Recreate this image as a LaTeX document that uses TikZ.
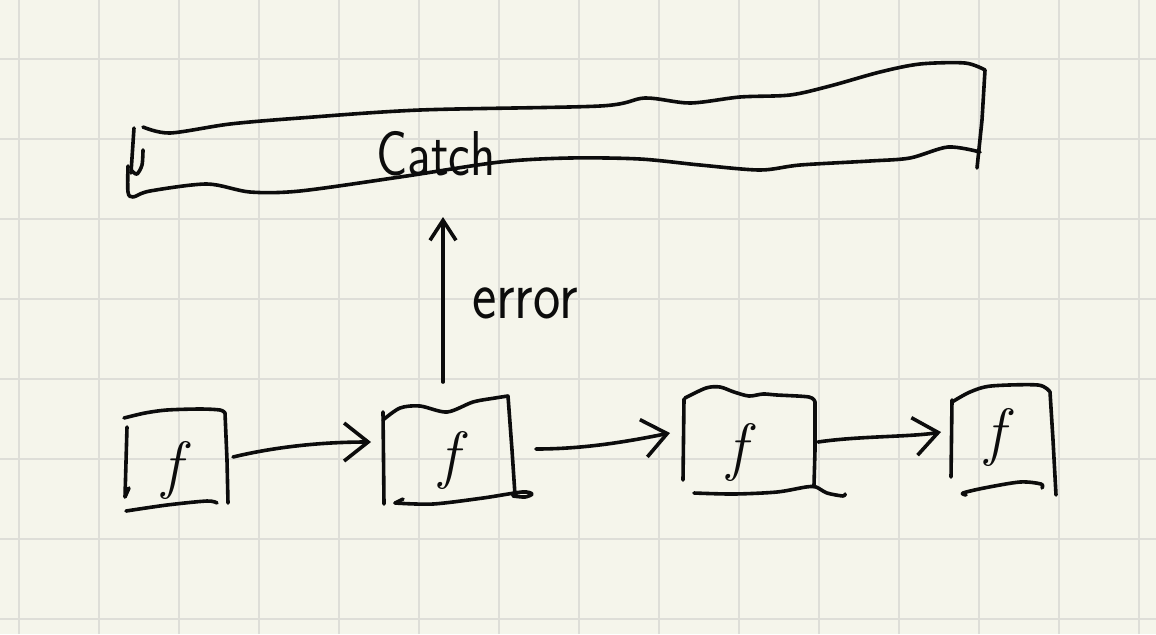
\documentclass[tikz,border=0pt]{standalone}
\usepackage{graphicx}
\usetikzlibrary{arrows.meta,calc}
\definecolor{paper}{RGB}{245,245,235}
\definecolor{gridc}{RGB}{222,222,216}
\definecolor{ink}{RGB}{12,12,12}
\begin{document}
\begin{tikzpicture}[x=0.5pt,y=-0.5pt,
  pen/.style={draw=ink,line width=1.8pt,line cap=round,line join=round},
  barb/.style={-{Straight Barb[length=12pt,width=19pt]}},
  smallbarb/.style={-{Straight Barb[length=10pt,width=13pt]}},
  area/.style={inner sep=0pt,outer sep=0pt},
  ftext/.style={font=\fontsize{32}{36}\selectfont\itshape,inner sep=0pt,text=ink},
  hand/.style={font=\fontsize{#1}{#1}\selectfont\sffamily,inner sep=0pt,text=ink},
  gridline/.style={draw=gridc,line width=1pt}]
\useasboundingbox (0,0) rectangle (1156,634);
\fill[paper] (0,0) rectangle (1156,634);
\foreach \x in {19,99,...,1139} \draw[gridline] (\x,0) -- (\x,634);
\foreach \y in {59,139,...,619} \draw[gridline] (0,\y) -- (1156,\y);

% areas of the sketched boxes
\node[area,minimum width=427.5pt,minimum height=67pt] (catchbox) at (557.5,130) {};
\node[area,minimum width=51.5pt,minimum height=48pt] (b1) at (176.5,457) {};
\node[area,minimum width=66pt,minimum height=53.5pt] (b2) at (449,450.5) {};
\node[area,minimum width=65.5pt,minimum height=53pt] (b3) at (749.5,441) {};
\node[area,minimum width=52pt,minimum height=55pt] (b4) at (1004,440) {};

% texts
\node[hand=26,anchor=base] (catch) at (436,175) {\scalebox{1}[1.22]{Catch}};
\node[hand=29,anchor=base] (err) at (525,318) {\scalebox{1}[1.2]{error}};
\node[ftext] (f1) at ($(b1.center)+(-4.5,13)$) {f};
\node[ftext] (f2) at ($(b2.center)+(0,9.5)$) {f};
\node[ftext] (f3) at ($(b3.center)+(-12.5,11)$) {f};
\node[ftext] (f4) at ($(b4.center)+(-9,-3)$) {f};

% Catch outline
\draw[pen] plot[smooth] coordinates {(143,127) (170,133) (230,124) (300,118) (420,110) (600,106) (645,98) (690,103) (740,97) (790,95) (830,86) (880,72) (920,64) (965,63) (985,70)} -- (982,120) -- (977,168);
\draw[pen] (134,128) -- (131,173);
\draw[pen] plot[smooth] coordinates {(128,166) (128,192) (133,197) (150,191) (207,184) (250,192) (300,191) (400,177) (500,162) (570,158) (640,159) (700,165) (760,170) (800,165) (870,161) (910,158) (948,147) (980,152)};
\draw[pen] plot[smooth] coordinates {(143,150) (142,165) (137,174) (132,171)};

% box 1
\draw[pen] plot[smooth] coordinates {(124,418) (145,413) (167,410) (200,409) (220,410) (225,413)} -- (227,460) -- (228,503);
\draw[pen] (127,427) -- (125,497) -- (129,488);
\draw[pen] plot[smooth] coordinates {(126,511) (167,505) (207,501) (217,503)};
% box 2
\draw[pen] (383,412) -- (384,504);
\draw[pen] plot[smooth] coordinates {(383,420) (400,408) (420,406) (447,412) (473,402) (495,398) (508,396)} -- (512,450) -- (515,495);
\draw[pen] (403,499) -- (395,503);
\draw[pen] plot[smooth] coordinates {(395,503) (433,504) (483,498) (522,492) (532,494) (525,497) (513,496)};
% box 3
\draw[pen] (684,399) -- (683,480);
\draw[pen] plot[smooth] coordinates {(685,398) (706,388) (720,387) (734,392) (749,396) (763,394) (777,395) (809,397) (815,402)} -- (815,450) -- (814,485);
\draw[pen] plot[smooth] coordinates {(694,493) (734,494) (777,492) (806,487) (816,487) (827,493) (843,496) (845,494)};
% box 4
\draw[pen] (952,400) -- (951,477);
\draw[pen] plot[smooth] coordinates {(952,402) (970,392) (991,386) (1038,385) (1050,392)} -- (1053,440) -- (1056,495);
\draw[pen] plot[smooth] coordinates {(966,495) (963,493) (984,488) (1020,482) (1041,484) (1042,488)};

% connectors
\draw[pen,barb] ($(b1.east)+(5,0)$) .. controls +(50,-12) and +(-40,0) .. ($(b2.west)+(-12,-8.5)$);
\draw[pen,barb] ($(b2.east)+(21,-1.5)$) .. controls +(50,0) and +(-40,8) .. ($(b3.west)+(-14,-8)$);
\draw[pen,barb] ($(b3.east)+(3,1)$) .. controls +(40,-6) and +(-30,5) .. ($(b4.west)+(-11,-8)$);
\draw[pen,smallbarb] ($(b2.north)+(-6,-15)$) -- ($(catchbox.south -| b2.north)+(-6,20)$);
\end{tikzpicture}
\end{document}
